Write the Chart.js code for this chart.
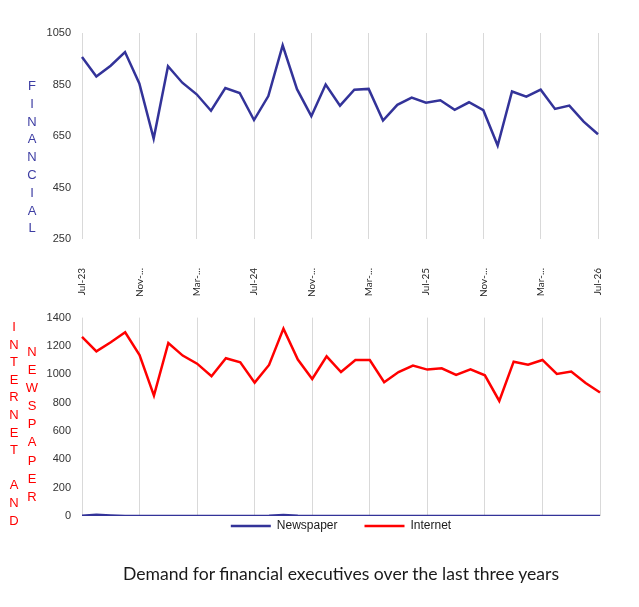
<!DOCTYPE html>
<html>
<head>
<meta charset="utf-8">
<script src="https://cdn.jsdelivr.net/npm/chart.js@4.4.1/dist/chart.umd.min.js"></script>
<style>
    body { margin: 0; background: #fff; }
    #wrap { position: relative; width: 639px; height: 607px; }
    .box { position: absolute; left: 0; width: 639px; }
    .stack { position: absolute; font-family: "Liberation Sans", Arial, sans-serif; font-size: 13px; text-align: center; width: 16px; }
    #title { position: absolute; left: 82px; width: 518px; top: 563px; text-align: center;
             font-family: Lato, "Open Sans", sans-serif; font-size: 17.6px; line-height: 22px; color: #1a1a1a; }
</style>
</head>
<body>
<div id="wrap">
    <div class="box" style="top:0;height:300px"><canvas id="financialChart"></canvas></div>
    <div class="box" style="top:300px;height:267px"><canvas id="mediaChart"></canvas></div>
    <div class="stack" id="finLabel" style="left:24px;top:77px;line-height:17.8px;color:#3d3da3"></div>
    <div class="stack" id="netLabel" style="left:6px;top:318px;line-height:17.6px;color:#ff0000"></div>
    <div class="stack" id="paperLabel" style="left:24px;top:343px;line-height:18.1px;color:#ff0000"></div>
    <div id="title">Demand for financial executives over the last three years</div>
</div>
<script>
// Months Jul-23 .. Jul-26
const months = [
    'Jul-23', 'Aug-23', 'Sep-23', 'Oct-23', 'Nov-23', 'Dec-23', 'Jan-24', 'Feb-24', 'Mar-24',
    'Apr-24', 'May-24', 'Jun-24', 'Jul-24', 'Aug-24', 'Sep-24', 'Oct-24', 'Nov-24', 'Dec-24',
    'Jan-25', 'Feb-25', 'Mar-25', 'Apr-25', 'May-25', 'Jun-25', 'Jul-25', 'Aug-25', 'Sep-25',
    'Oct-25', 'Nov-25', 'Dec-25', 'Jan-26', 'Feb-26', 'Mar-26', 'Apr-26', 'May-26', 'Jun-26', 'Jul-26'
];

// Tick labels shown every fourth month (truncated as in the original)
const tickLabels = ['Jul-23', 'Nov-...', 'Mar-...', 'Jul-24', 'Nov-...', 'Mar-...', 'Jul-25', 'Nov-...', 'Mar-...', 'Jul-26'];

const financial = [
    957, 881, 923, 976, 854, 640, 921, 857, 812, 748, 836, 817, 712, 805, 1002, 832, 727, 850,
    768, 830, 833, 710, 771, 799, 779, 789, 752, 781, 750, 613, 823, 803, 830, 755, 768, 706, 657
];

const newspaper = [
    2, 8, 4, 0, 0, 0, 0, 0, 0, 0, 0, 0, 0, 1, 7, 2, 0, 0,
    0, 0, 0, 0, 0, 0, 0, 0, 0, 0, 0, 0, 0, 0, 0, 0, 0, 0, 0
];

const internet = [
    1264, 1162, 1226, 1296, 1136, 849, 1221, 1132, 1075, 986, 1113, 1085, 941, 1066, 1322, 1104, 967, 1127,
    1016, 1101, 1101, 944, 1016, 1061, 1033, 1042, 995, 1035, 993, 812, 1089, 1068, 1101, 1002, 1019, 939, 871
];

const finTitle = 'FINANCIAL';
const netTitle = 'INTERNET AND';
const paperTitle = 'NEWSPAPER';

const BLUE = '#333399';
const RED = '#ff0000';
const GRID = '#d9d9d9';

// Vertical stacked axis captions
function stackText(id, text) {
    document.getElementById(id).innerHTML = text.split('').map(c => c === ' ' ? '&nbsp;' : c).join('<br>');
}
stackText('finLabel', finTitle);
stackText('netLabel', netTitle);
stackText('paperLabel', paperTitle);

const gridColor = ctx => (ctx.index % 4 === 0 ? GRID : 'rgba(0,0,0,0)');
const tickFont = { family: '"Liberation Sans", Arial, sans-serif', size: 11 };
const plainNumber = value => String(value);

let financialChart, mediaChart;

function initializeCharts() {
    const finCtx = document.getElementById('financialChart').getContext('2d');
    const mediaCtx = document.getElementById('mediaChart').getContext('2d');

    financialChart = new Chart(finCtx, {
        type: 'line',
        data: {
            labels: months,
            datasets: [{
                label: 'Financial',
                data: financial,
                borderColor: BLUE,
                backgroundColor: BLUE,
                borderWidth: 2.5,
                pointRadius: 0,
                tension: 0
            }]
        },
        options: {
            responsive: true,
            maintainAspectRatio: false,
            animation: false,
            layout: { padding: { top: 33, right: 39, bottom: 0, left: 0 } },
            plugins: { legend: { display: false }, tooltip: { enabled: false } },
            scales: {
                x: {
                    offset: false,
                    border: { display: false },
                    grid: { color: gridColor, drawTicks: false, lineWidth: 1 },
                    afterFit: scale => { scale.height = 61; },
                    ticks: {
                        autoSkip: false,
                        maxRotation: 90,
                        minRotation: 90,
                        padding: 29,
                        color: '#262626',
                        font: { family: 'Lato, "Open Sans", sans-serif', size: 10 },
                        callback: (value, index) => (index % 4 === 0 ? tickLabels[index / 4] : '')
                    }
                },
                y: {
                    min: 250,
                    max: 1050,
                    border: { display: false },
                    grid: { display: false, drawTicks: false },
                    afterFit: scale => { scale.width = 82; },
                    ticks: { stepSize: 200, padding: 11, color: '#333', font: tickFont, callback: plainNumber }
                }
            }
        }
    });

    mediaChart = new Chart(mediaCtx, {
        type: 'line',
        data: {
            labels: months,
            datasets: [{
                label: 'Newspaper',
                data: newspaper,
                borderColor: BLUE,
                backgroundColor: BLUE,
                borderWidth: 2.5,
                pointRadius: 0,
                tension: 0
            }, {
                label: 'Internet',
                data: internet,
                borderColor: RED,
                backgroundColor: RED,
                borderWidth: 2.5,
                pointRadius: 0,
                tension: 0
            }]
        },
        options: {
            responsive: true,
            maintainAspectRatio: false,
            animation: false,
            layout: { padding: { top: 15, right: 39, bottom: 2, left: 0 } },
            plugins: {
                tooltip: { enabled: false },
                legend: {
                    position: 'bottom',
                    fullSize: false,
                    labels: {
                        usePointStyle: true,
                        pointStyle: 'line',
                        pointStyleWidth: 40,
                        padding: 27,
                        color: '#1a1a1a',
                        font: { family: '"Liberation Sans", Arial, sans-serif', size: 12 }
                    }
                }
            },
            scales: {
                x: {
                    offset: false,
                    border: { display: false },
                    grid: { color: gridColor, drawTicks: false, lineWidth: 1 },
                    // pull the legend up close under the plot
                    afterFit: scale => { scale.height = -23; },
                    ticks: { display: false }
                },
                y: {
                    min: 0,
                    max: 1400,
                    border: { display: false },
                    grid: { display: false, drawTicks: false },
                    afterFit: scale => { scale.width = 82; },
                    ticks: { stepSize: 200, padding: 11, color: '#333', font: tickFont, callback: plainNumber }
                }
            }
        }
    });
}

document.addEventListener('DOMContentLoaded', initializeCharts);
</script>
</body>
</html>
